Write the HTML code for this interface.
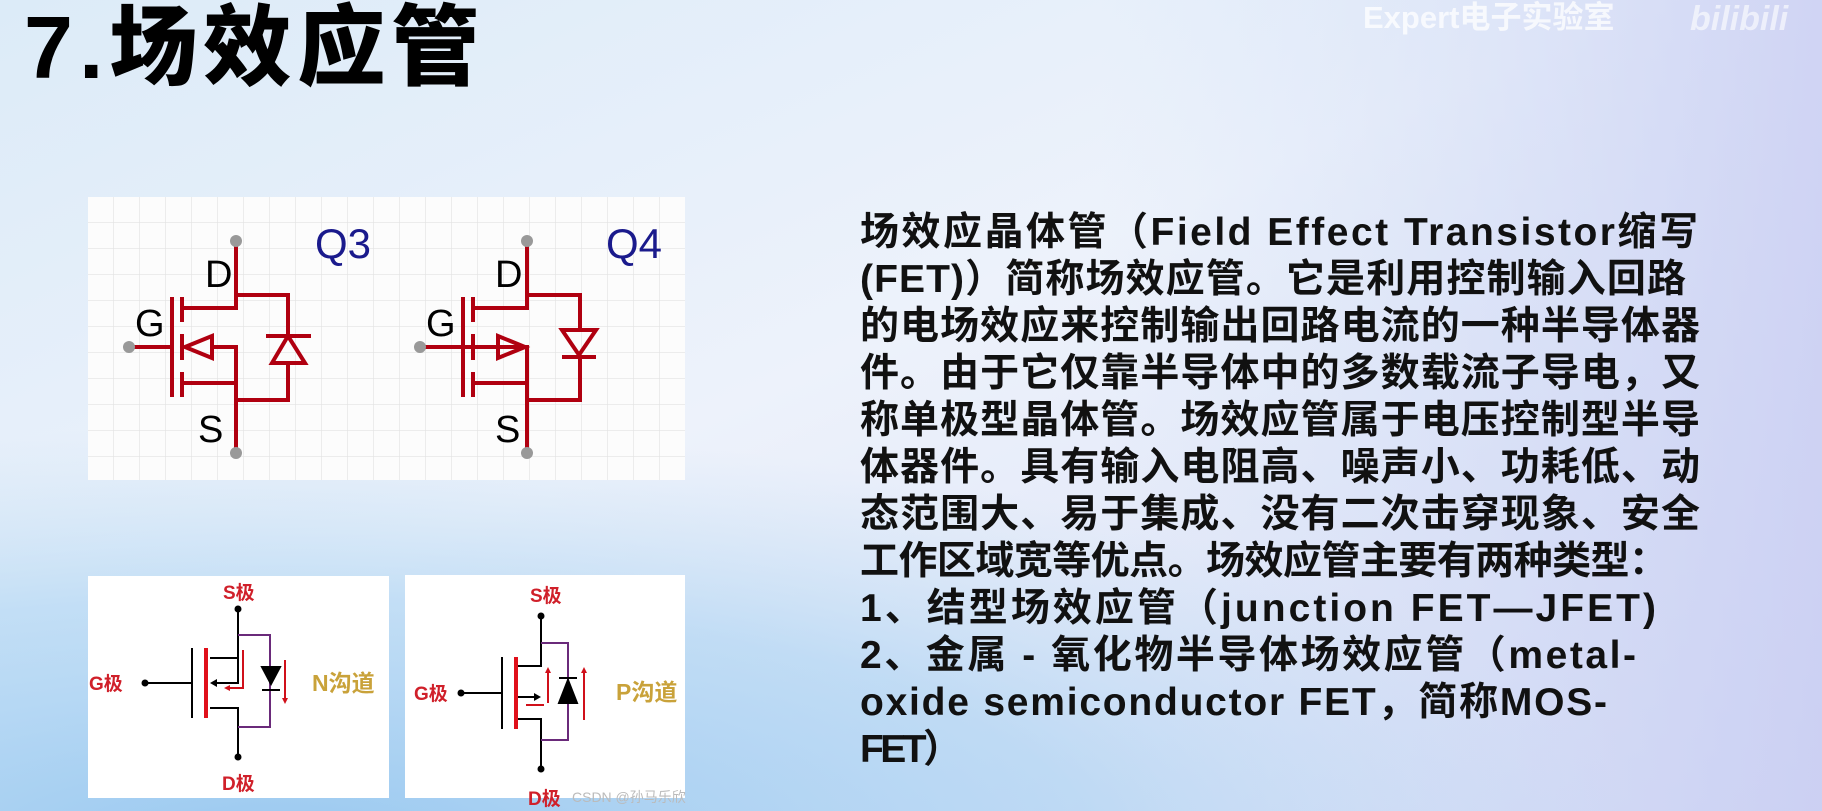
<!DOCTYPE html>
<html><head><meta charset="utf-8"><style>
html,body{margin:0;padding:0;width:1822px;height:811px;overflow:hidden}
svg{display:block}
.t{font-family:"Liberation Sans","Noto Sans CJK SC",sans-serif;font-weight:700;font-size:39px;fill:#111}
</style></head><body>
<svg width="1822" height="811" viewBox="0 0 1822 811" xmlns="http://www.w3.org/2000/svg">
<defs>
<linearGradient id="bg" x1="0" y1="0" x2="1" y2="1">
<stop offset="0" stop-color="#dcebf8"/>
<stop offset="0.45" stop-color="#edf2fb"/>
<stop offset="1" stop-color="#d6dcf5"/>
</linearGradient>
<radialGradient id="bg2" cx="0.15" cy="1.05" r="0.75" gradientTransform="translate(0.15 1.05) scale(1 0.7) translate(-0.15 -1.05)">
<stop offset="0" stop-color="#98c8f0" stop-opacity="1"/>
<stop offset="0.6" stop-color="#a8d2f2" stop-opacity="0.6"/>
<stop offset="1" stop-color="#c0ddf4" stop-opacity="0"/>
</radialGradient>
<linearGradient id="bg3" x1="0" y1="0" x2="1" y2="0">
<stop offset="0" stop-color="#cfe0f7" stop-opacity="0"/>
<stop offset="1" stop-color="#c9cdf2" stop-opacity="0.8"/>
</linearGradient>
<pattern id="grid" width="26" height="26" patternUnits="userSpaceOnUse" x="88" y="197">
<path d="M26 0V26M0 26H26" stroke="#e2e2e2" stroke-width="1.2" fill="none"/>
</pattern>
</defs>
<rect width="1822" height="811" fill="url(#bg)"/>
<rect x="1100" y="0" width="722" height="811" fill="url(#bg3)"/>
<rect x="0" y="0" width="1822" height="811" fill="url(#bg2)"/>

<!-- title -->
<text x="24" y="78" font-family="Liberation Sans,'Noto Sans CJK SC',sans-serif" font-weight="900" font-size="88" letter-spacing="6" fill="#000">7.场效应管</text>
<!-- watermark -->
<text x="1363" y="28" font-family="Liberation Sans,'Noto Sans CJK SC',sans-serif" font-weight="700" font-size="31" fill="#fff" fill-opacity="0.75">Expert电子实验室</text>
<text x="1690" y="30" font-family="Liberation Sans,sans-serif" font-weight="700" font-size="34" fill="#fff" fill-opacity="0.6" font-style="italic">bilibili</text>

<!-- top schematic box -->
<rect x="88" y="197" width="597" height="283" fill="#fcfcfc"/>
<rect x="88" y="197" width="597" height="283" fill="url(#grid)"/>
<g font-family="Liberation Sans,sans-serif">
<text x="315" y="258" font-size="42" fill="#1a1a8c">Q3</text>
<text x="606" y="258" font-size="42" fill="#1a1a8c">Q4</text>
<g font-size="38" fill="#000">
<text x="205" y="287">D</text><text x="135" y="336">G</text><text x="198" y="442">S</text>
<text x="495" y="287">D</text><text x="426" y="336">G</text><text x="495" y="442">S</text>
</g>
</g>
<g stroke="#b00010" stroke-width="4" fill="none">
<path d="M236 241V308H182M236 295H288V336M288 363V400H236M236 453V347H214M182 383H236"/>
<path d="M129 347H172M172 297V397M182 297V322M182 334V360M182 372V397"/>
<path d="M266 336H311M272 363L288 336L305 363Z"/>
<path d="M185 347L212 336V358Z"/>
<path d="M527 241V308H473M527 295H580V330M580 357V400H527M527 453V347H440M473 383H527"/>
<path d="M420 347H463M463 297V397M473 297V322M473 334V360M473 372V397"/>
<path d="M562 330H596L579 355ZM562 357H596"/>
<path d="M525 347L498 336V358Z"/>
</g>
<g fill="#999"><circle cx="236" cy="241" r="6"/><circle cx="236" cy="453" r="6"/><circle cx="129" cy="347" r="6"/>
<circle cx="527" cy="241" r="6"/><circle cx="527" cy="453" r="6"/><circle cx="420" cy="347" r="6"/></g>

<!-- bottom boxes -->
<rect x="88" y="576" width="301" height="222" fill="#fff"/>
<rect x="405" y="575" width="280" height="223" fill="#fff"/>
<g font-family="Liberation Sans,'Noto Sans CJK SC',sans-serif" font-weight="700" font-size="19" fill="#d0202a">
<text x="223" y="599">S极</text><text x="222" y="790">D极</text><text x="89" y="690">G极</text>
<text x="530" y="602">S极</text><text x="528" y="805">D极</text><text x="414" y="700">G极</text>
</g>
<g font-family="Liberation Sans,'Noto Sans CJK SC',sans-serif" font-weight="700" font-size="23" fill="#c9a23a">
<text x="312" y="691">N沟道</text><text x="616" y="700">P沟道</text>
</g>
<g stroke="#000" stroke-width="2" fill="none">
<path d="M238 609V683H212M238 658H210M210 708H238V757M145 683H192M192 648V718"/>
</g>
<path d="M238 635H270V727H238" stroke="#6a2a7a" stroke-width="2" fill="none"/>
<line x1="206" y1="648" x2="206" y2="718" stroke="#e0101a" stroke-width="4"/>
<path d="M210 683l7-4v8z" fill="#000"/>
<path d="M262 667H280L271 684Z M262 690H280" fill="#000" stroke="#000" stroke-width="2"/>
<path d="M243 650V688H228M285 660V700" stroke="#d0101a" stroke-width="2" fill="none"/>
<path d="M224 688l6-3v6zM285 704l-3-6h6z" fill="#d0101a"/>
<g fill="#000"><circle cx="238" cy="609" r="3.5"/><circle cx="238" cy="757" r="3.5"/><circle cx="145" cy="683" r="3.5"/></g>

<g stroke="#000" stroke-width="2" fill="none">
<path d="M541 616V666H518M518 719H541V769M461 693H502M502 657V729M518 697H539"/>
</g>
<path d="M541 643H568V740H541" stroke="#6a2a7a" stroke-width="2" fill="none"/>
<line x1="516" y1="657" x2="516" y2="729" stroke="#e0101a" stroke-width="4"/>
<path d="M541 697l-7-4v8z" fill="#000"/>
<path d="M559 703H577L568 680Z M559 678H577" fill="#000" stroke="#000" stroke-width="2"/>
<path d="M548 703V672M584 720V672M526 705H544" stroke="#d0101a" stroke-width="2" fill="none"/>
<path d="M548 667l-3 6h6zM584 667l-3 6h6z" fill="#d0101a"/>
<g fill="#000"><circle cx="541" cy="616" r="3.5"/><circle cx="541" cy="769" r="3.5"/><circle cx="461" cy="693" r="3.5"/></g>
<text x="572" y="802" font-family="Liberation Sans,'Noto Sans CJK SC',sans-serif" font-size="14" fill="#bbb">CSDN @孙马乐欣</text>

<!-- body text -->
<g class="t">
<text x="860" y="245" textLength="838" lengthAdjust="spacing">场效应晶体管（Field Effect Transistor缩写</text>
<text x="860" y="292" textLength="826" lengthAdjust="spacing">(FET)）简称场效应管。它是利用控制输入回路</text>
<text x="860" y="339" textLength="840" lengthAdjust="spacing">的电场效应来控制输出回路电流的一种半导体器</text>
<text x="860" y="386" textLength="840" lengthAdjust="spacing">件。由于它仅靠半导体中的多数载流子导电，又</text>
<text x="860" y="433" textLength="840" lengthAdjust="spacing">称单极型晶体管。场效应管属于电压控制型半导</text>
<text x="860" y="480" textLength="840" lengthAdjust="spacing">体器件。具有输入电阻高、噪声小、功耗低、动</text>
<text x="860" y="527" textLength="840" lengthAdjust="spacing">态范围大、易于集成、没有二次击穿现象、安全</text>
<text x="860" y="574" textLength="808" lengthAdjust="spacing">工作区域宽等优点。场效应管主要有两种类型：</text>
<text x="860" y="621" textLength="796" lengthAdjust="spacing">1、结型场效应管（junction FET—JFET)</text>
<text x="860" y="668" textLength="776" lengthAdjust="spacing">2、金属 - 氧化物半导体场效应管（metal-</text>
<text x="860" y="715" textLength="747" lengthAdjust="spacing">oxide semiconductor FET，简称MOS-</text>
<text x="860" y="762" textLength="102" lengthAdjust="spacing">FET）</text>
</g>
</svg>
</body></html>
